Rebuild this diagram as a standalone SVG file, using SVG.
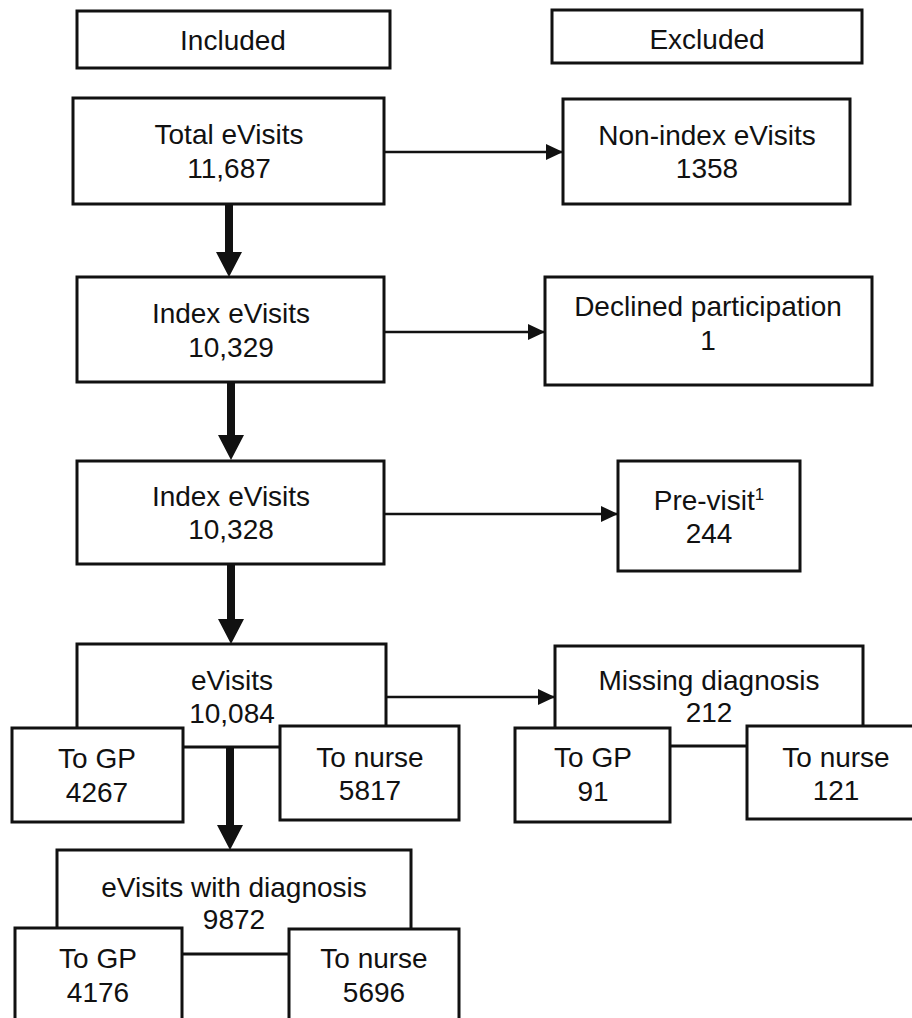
<svg xmlns="http://www.w3.org/2000/svg" width="912" height="1018" viewBox="0 0 912 1018">
<defs>
<style>
.box{fill:#fff;stroke:#111;stroke-width:3}
.t{font-family:"Liberation Sans",Arial,sans-serif;font-size:28px;fill:#111;text-anchor:middle}
.ln{stroke:#111;stroke-width:2.6;fill:none}
.thick{fill:#111}
</style>
<marker id="ah" markerUnits="userSpaceOnUse" markerWidth="18" markerHeight="18" refX="17" refY="8" orient="auto">
<path d="M0,0 L17,8 L0,16 Z" fill="#111"/>
</marker>
</defs>
<rect width="912" height="1018" fill="#fff"/>

<g id="connectors">
<line class="ln" x1="384" y1="152" x2="563" y2="152" marker-end="url(#ah)"/>
<line class="ln" x1="384" y1="332" x2="545" y2="332" marker-end="url(#ah)"/>
<line class="ln" x1="384" y1="514" x2="618" y2="514" marker-end="url(#ah)"/>
<line class="ln" x1="386" y1="697" x2="555" y2="697" marker-end="url(#ah)"/>
<polygon class="thick" points="225,204 233,204 233,252 242,252 229,277 216,252 225,252"/>
<polygon class="thick" points="227,382 235,382 235,435 244,435 231,460 218,435 227,435"/>
<polygon class="thick" points="227,564 235,564 235,619 244,619 231,644 218,619 227,619"/>
<polygon class="thick" points="226,747 234,747 234,825 243,825 230,850 217,825 226,825"/>
</g>

<g id="included">
<rect class="box" x="77" y="11" width="313" height="57"/>
<text class="t" x="233" y="50">Included</text>
</g>
<g id="excluded">
<rect class="box" x="552" y="10" width="310" height="53"/>
<text class="t" x="707" y="49">Excluded</text>
</g>

<g id="total">
<rect class="box" x="73" y="98" width="311" height="106"/>
<text class="t" x="229" y="144">Total eVisits</text>
<text class="t" x="229" y="178">11,687</text>
</g>
<g id="nonindex">
<rect class="box" x="563" y="99" width="287" height="105"/>
<text class="t" x="707" y="145">Non-index eVisits</text>
<text class="t" x="707" y="178">1358</text>
</g>

<g id="index1">
<rect class="box" x="77" y="277" width="307" height="105"/>
<text class="t" x="231" y="323">Index eVisits</text>
<text class="t" x="231" y="357">10,329</text>
</g>
<g id="declined">
<rect class="box" x="545" y="277" width="327" height="108"/>
<text class="t" x="708" y="316">Declined participation</text>
<text class="t" x="708" y="350">1</text>
</g>

<g id="index2">
<rect class="box" x="77" y="461" width="307" height="103"/>
<text class="t" x="231" y="506">Index eVisits</text>
<text class="t" x="231" y="539">10,328</text>
</g>
<g id="previsit">
<rect class="box" x="618" y="461" width="182" height="110"/>
<text class="t" x="709" y="510">Pre-visit<tspan font-size="17" dy="-10">1</tspan></text>
<text class="t" x="709" y="543">244</text>
</g>

<g id="evisits">
<rect class="box" x="77" y="644" width="309" height="103"/>
<text class="t" x="232" y="690">eVisits</text>
<text class="t" x="232" y="723">10,084</text>
</g>
<g id="evisits-gp">
<rect class="box" x="12" y="728" width="171" height="94"/>
<text class="t" x="97" y="768">To GP</text>
<text class="t" x="97" y="802">4267</text>
</g>
<g id="evisits-nurse">
<rect class="box" x="280" y="726" width="179" height="94"/>
<text class="t" x="370" y="767">To nurse</text>
<text class="t" x="370" y="800">5817</text>
</g>

<g id="missing">
<rect class="box" x="555" y="646" width="308" height="100"/>
<text class="t" x="709" y="690">Missing diagnosis</text>
<text class="t" x="709" y="722">212</text>
</g>
<g id="missing-gp">
<rect class="box" x="515" y="728" width="155" height="94"/>
<text class="t" x="593" y="767">To GP</text>
<text class="t" x="593" y="801">91</text>
</g>
<g id="missing-nurse">
<rect class="box" x="747" y="726" width="168" height="93"/>
<text class="t" x="836" y="767">To nurse</text>
<text class="t" x="836" y="800">121</text>
</g>

<g id="withdiag">
<rect class="box" x="57" y="850" width="354" height="104"/>
<text class="t" x="234" y="897">eVisits with diagnosis</text>
<text class="t" x="234" y="929">9872</text>
</g>
<g id="withdiag-gp">
<rect class="box" x="15" y="928" width="167" height="100"/>
<text class="t" x="98" y="968">To GP</text>
<text class="t" x="98" y="1002">4176</text>
</g>
<g id="withdiag-nurse">
<rect class="box" x="289" y="929" width="170" height="100"/>
<text class="t" x="374" y="968">To nurse</text>
<text class="t" x="374" y="1002">5696</text>
</g>
</svg>
